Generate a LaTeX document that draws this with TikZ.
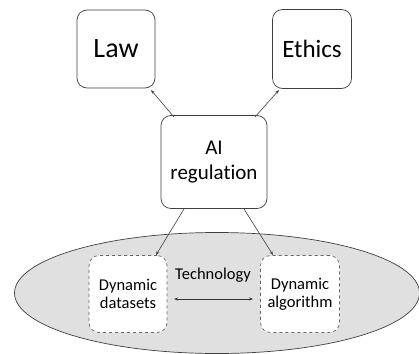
\documentclass[tikz,border=0pt]{standalone}
\usepackage{fontspec}
\setmainfont[Ligatures=NoCommon]{Carlito}
\usetikzlibrary{arrows.meta,shapes.geometric}
\begin{document}
\begin{tikzpicture}[x=1pt,y=-1pt,
  box/.style={draw=black!75, line width=0.7pt, rounded corners=10pt, fill=white, align=center, inner sep=0pt},
  dbox/.style={box, dashed, draw=black!60},
  link/.style={draw=black!75, line width=0.6pt, -{Stealth[length=4pt,width=3pt]}},
  dlink/.style={draw=black!80, line width=0.6pt, {Stealth[length=4pt,width=3pt]}-{Stealth[length=4pt,width=3pt]}}]
  \useasboundingbox (0,0) rectangle (419,353);
  % technology ellipse
  \begin{scope}
    \clip (0,0) rectangle (419,353);
    \node[draw=black!75, line width=0.7pt, fill=black!12, ellipse, minimum width=405pt, minimum height=121pt, inner sep=0pt] (tech) at (217,293) {};
  \end{scope}
  % boxes
  \node[box, minimum width=78pt, minimum height=78pt, font=\fontsize{28}{30}\selectfont] (law) at (116,49) {Law};
  \node[box, minimum width=79pt, minimum height=79pt, font=\fontsize{25}{28}\selectfont] (ethics) at (312,49) {Ethics};
  \node[box, minimum width=106pt, minimum height=93pt, font=\fontsize{21}{25}\selectfont] (ai) at (214,162) {AI\\regulation};
  \node[dbox, minimum width=78pt, minimum height=77pt, font=\fontsize{16.5}{18}\selectfont] (data) at (128,294) {Dynamic\\datasets};
  \node[dbox, minimum width=79pt, minimum height=77pt, font=\fontsize{16.5}{18}\selectfont] (algo) at (300,294) {Dynamic\\algorithm};
  \node[font=\fontsize{16.5}{18}\selectfont, inner sep=0pt] (techlabel) at (213,275) {Technology};
  % connectors
  \coordinate (a1) at (174,117);
  \coordinate (a2) at (255,117);
  \coordinate (a3) at (184,209);
  \coordinate (a4) at (244,209);
  \coordinate (l1) at (151,90);
  \coordinate (e1) at (279,90);
  \coordinate (d1) at (156,255);
  \coordinate (g1) at (273,255);
  \draw[link] (a1) -- (l1);
  \draw[link] (a2) -- (e1);
  \draw[link] (a3) -- (d1);
  \draw[link] (a4) -- (g1);
  \coordinate (p1) at (174,299);
  \coordinate (p2) at (253,299);
  \draw[dlink] (p1) -- (p2);
\end{tikzpicture}
\end{document}
